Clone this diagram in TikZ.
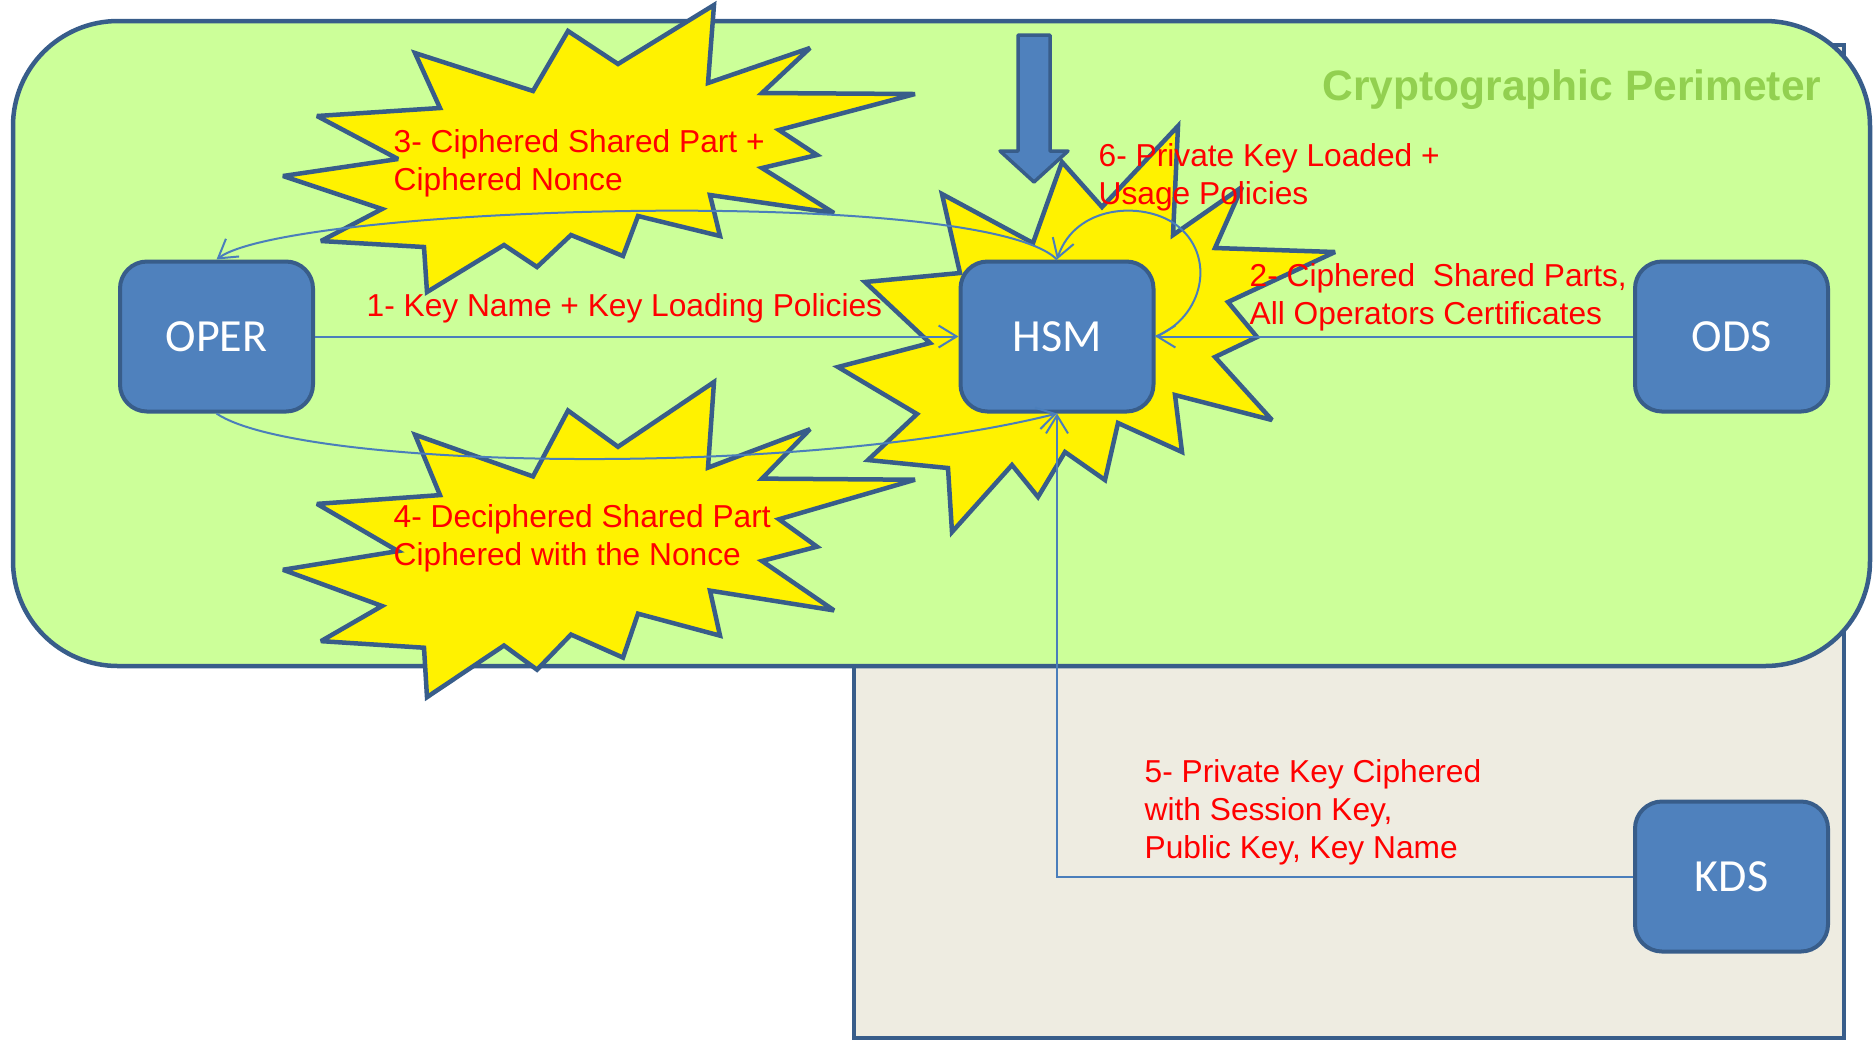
\documentclass[tikz,border=0pt]{standalone}
\usepackage{fontspec}
\setmainfont{Liberation Sans}
\newfontfamily\boxfont{Carlito}
\usetikzlibrary{arrows.meta}

\definecolor{perimfill}{HTML}{CCFF99}
\definecolor{kdsfill}{HTML}{EEECE1}
\definecolor{edgeblue}{HTML}{385D8A}
\definecolor{boxblue}{HTML}{4F81BD}
\definecolor{linkblue}{HTML}{4A7EBB}
\definecolor{titlegreen}{HTML}{92D050}

% explosion outline behind the step 3 text
\newcommand{\burstpath}{(714,5) -- (708,83) -- (810,48) -- (762,93) -- (915,94) -- (779,130)
  -- (817,155) -- (762,168) -- (834,213) -- (710,195) -- (720,236) -- (638,216)
  -- (623,256) -- (571,235) -- (537,267) -- (504,245) -- (427,292) -- (424,247)
  -- (321,241) -- (382,209) -- (283,176) -- (398,159) -- (317,116) -- (440,108)
  -- (415,53) -- (533,91) -- (568,31) -- (618,64) -- cycle}

\begin{document}
\begin{tikzpicture}[x=0.1mm, y=-0.1mm,
    box/.style={draw=edgeblue, fill=boxblue, line width=0.4mm, rounded corners=2.7mm,
                minimum width=19.3mm, minimum height=15mm, text=white,
                font=\boxfont\fontsize{13.1}{15}\selectfont},
    burst/.style={draw=edgeblue, fill=yellow, line width=0.45mm, line join=miter, miter limit=3},
    link/.style={draw=linkblue, line width=0.2mm, -{Straight Barb[length=1.8mm,width=2.2mm]}},
    lbl/.style={text=red, anchor=base west, align=left, inner sep=0pt,
                font=\fontsize{9.02}{10.81}\selectfont}]
    \useasboundingbox (0,0) rectangle (1874,1040);

    % KDS area and the perimeter
    \filldraw[fill=kdsfill, draw=edgeblue, line width=0.33mm] (854,45) rectangle (1844,1038);
    \filldraw[fill=perimfill, draw=edgeblue, line width=0.45mm, rounded corners=10.5mm]
        (13,21) rectangle (1870,666);
    \node[text=titlegreen, anchor=base east, inner sep=0pt,
          font=\bfseries\fontsize{12.1}{14}\selectfont] (title) at (1822,100) {Cryptographic Perimeter};

    % Explosions
    \draw[burst] \burstpath;
    \draw[burst, shift={(0,376.5)}, yscale=1.098] \burstpath;
    \draw[burst] (942,194) -- (1033,243) -- (1062,162) -- (1102,207) -- (1178,126)
        -- (1173,235) -- (1242,187) -- (1215,248) -- (1335,252) -- (1228,302)
        -- (1257,337) -- (1215,357) -- (1272,420) -- (1175,395) -- (1182,452)
        -- (1118,423) -- (1105,480) -- (1065,452) -- (1038,497) -- (1012,465)
        -- (952,532) -- (948,468) -- (868,460) -- (917,414) -- (838,367)
        -- (930,343) -- (865,282) -- (960,273) -- cycle;

    % Block arrow into the HSM
    \filldraw[fill=boxblue, draw=edgeblue, line width=0.35mm, line join=round]
        (1018,35) -- (1050,35) -- (1050,151) -- (1068,151) -- (1034,182)
        -- (1000,151) -- (1018,151) -- cycle;

    % Boxes
    \node[box] (oper) at (216.5,336.5) {OPER};
    \node[box] (hsm)  at (1057,336.5)  {HSM};
    \node[box] (ods)  at (1731.5,336.5) {ODS};
    \node[box] (kds)  at (1731.5,876.5) {KDS};

    % Messages
    \draw[link] (oper.east) -- (hsm.west);
    \draw[link] (ods.west) -- (hsm.east);
    \draw[link] (hsm.north) .. controls (982,185) and (290,205) .. (oper.north);
    \draw[link] (oper.south) .. controls (300,470) and (800,478) .. (hsm.south);
    \draw[link] (kds.west) -| (hsm.south);
    \draw[link] (hsm.east) .. controls (1203,318) and (1218,255) .. (1175,224)
        .. controls (1142,201) and (1075,205) .. (hsm.north);

    % Labels (anchored on the baseline of their last line)
    \node[lbl] (m1) at (366,316)  {1- Key Name + Key Loading Policies};
    \node[lbl] (m2) at (1249,324) {2- Ciphered\ \ Shared Parts,\\All Operators Certificates};
    \node[lbl] (m3) at (393,190)  {3- Ciphered Shared Part +\\Ciphered Nonce};
    \node[lbl] (m4) at (393,565)  {4- Deciphered Shared Part\\Ciphered with the Nonce};
    \node[lbl] (m5) at (1144,858) {5- Private Key Ciphered\\with Session Key,\\Public Key, Key Name};
    \node[lbl] (m6) at (1098,204) {6- Private Key Loaded +\\Usage Policies};
\end{tikzpicture}
\end{document}
